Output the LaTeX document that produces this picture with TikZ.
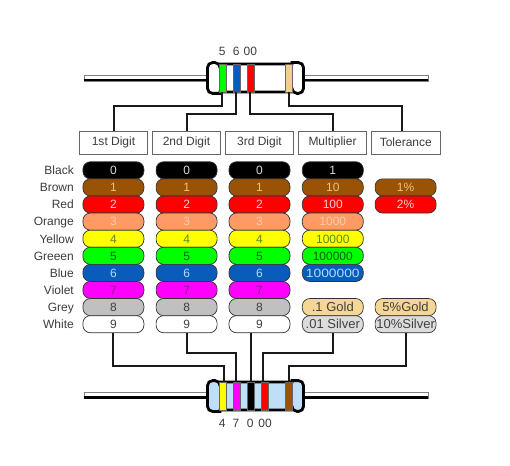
\documentclass[tikz,border=0pt]{standalone}
\usepackage{fontspec}
\usepackage{xcolor}
\usepackage{tikz}
\setmainfont{Liberation Sans}
\definecolor{ringbrown}{HTML}{9A5205}
\definecolor{ringred}{HTML}{FF0000}
\definecolor{ringorange}{HTML}{FF9966}
\definecolor{ringyellow}{HTML}{FFFF00}
\definecolor{ringgreen}{HTML}{00FF00}
\definecolor{ringblue}{HTML}{0A5CBB}
\definecolor{ringviolet}{HTML}{FF00FF}
\definecolor{ringgrey}{HTML}{C0C0C0}
\definecolor{ringgold}{HTML}{F5D795}
\definecolor{ringsilver}{HTML}{DCDCDC}
\definecolor{ringtan}{HTML}{F2CF8C}
\definecolor{bodyblue}{HTML}{BFDFF8}
\definecolor{labelgray}{HTML}{3C3C3C}

\begin{document}
\begin{tikzpicture}[
  x=1pt, y=-1pt,
  every node/.style={font=\fontsize{12}{14}\selectfont, text=labelgray},
  pill/.style={draw=black!80, line width=0.7pt, rounded corners=7.5pt, minimum width=61pt, minimum height=17.1pt, inner sep=0pt, text height=8.6pt, text depth=0pt, align=center},
  pblack/.style={pill, fill=black, text=black!15},
  pbrown/.style={pill, fill=ringbrown, text={rgb,255:red,240;green,195;blue,120}},
  pred/.style={pill, fill=ringred, text={rgb,255:red,255;green,205;blue,205}},
  porange/.style={pill, fill=ringorange, text={rgb,255:red,255;green,205;blue,170}},
  pyellow/.style={pill, fill=ringyellow, text={rgb,255:red,90;green,140;blue,30}},
  pgreen/.style={pill, fill=ringgreen, text={rgb,255:red,0;green,95;blue,0}},
  pblue/.style={pill, fill=ringblue, text={rgb,255:red,175;green,220;blue,255}},
  pviolet/.style={pill, fill=ringviolet, text={rgb,255:red,135;green,30;blue,135}},
  pgrey/.style={pill, fill=ringgrey, text=black!75},
  pwhite/.style={pill, fill=white, text=black!75},
  pgold/.style={pill, fill=ringgold, text=black!75, font=\fontsize{13}{14}\selectfont},
  psilver/.style={pill, fill=ringsilver, text=black!75, font=\fontsize{13}{14}\selectfont},
  colour/.style={anchor=east, inner sep=0pt, text height=8.6pt, text depth=0pt},
  digitbox/.style={draw=black!60, line width=0.7pt, fill=white, minimum width=68.4pt, minimum height=23.3pt, inner sep=0pt},
  band/.style={draw=black!60, line width=0.5pt, minimum width=7.4pt, minimum height=28pt, inner sep=0pt},
  casing/.style={draw=black, line width=2.8pt},
  lead/.style={draw=black!50, line width=0.7pt, fill=white, minimum width=344pt, minimum height=6pt, inner sep=0pt},
  wire/.style={draw=black!90, line width=2pt},
  value/.style={inner sep=0pt, text height=8.6pt, text depth=0pt}
]
\useasboundingbox (0,0) rectangle (510,465);

% upper resistor
\node[lead] (leadtop) at (256,78) {};
\draw[line width=2.6pt] ([yshift=1.4pt]leadtop.south west) -- ([yshift=1.4pt]leadtop.south east);
\draw[casing, fill=white] (207.5,78) [rounded corners=5pt] |- (220,62.6) [sharp corners] -- (220,64) -- (292,64) -- (292,62.6) [rounded corners=5pt] -| (303.5,78) |- (292,93.4) [sharp corners] -- (292,92) -- (220,92) -- (220,93.4) [rounded corners=5pt] -| (207.5,78) -- cycle;
\node[band, fill=ringgreen] (greentop) at (223,78) {};
\node[band, fill=ringblue] (bluetop) at (237,78) {};
\node[band, fill=ringred] (redtop) at (251,78) {};
\node[band, fill=ringtan] (tantop) at (289,78) {};
\node[value] (val5) at (222.3,51.7) {5};
\node[value] (val6) at (236.3,51.7) {6};
\node[value] (val00) at (250.3,51.7) {00};

% header boxes
\node[digitbox] (first) at (113.5,142.7) {1st Digit};
\node[digitbox] (second) at (186.5,142.7) {2nd Digit};
\node[digitbox] (third) at (259.5,142.7) {3rd Digit};
\node[digitbox] (multiplier) at (332.5,142.7) {Multiplier};
\node[digitbox] (tolerance) at (405.8,142.7) {Tolerance};

% colour names
\node[colour] (lblack) at (74,170.3) {Black};
\node[colour] (lbrown) at (74,187.4) {Brown};
\node[colour] (lred) at (74,204.5) {Red};
\node[colour] (lorange) at (74,221.6) {Orange};
\node[colour] (lyellow) at (74,238.7) {Yellow};
\node[colour] (lgreen) at (74,255.8) {Greeen};
\node[colour] (lblue) at (74,272.9) {Blue};
\node[colour] (lviolet) at (74,290) {Violet};
\node[colour] (lgrey) at (74,307.1) {Grey};
\node[colour] (lwhite) at (74,324.2) {White};

% first digit
\node[pblack] (a0) at (113.4,170.3) {0};
\node[pbrown] (a1) at (113.4,187.4) {1};
\node[pred] (a2) at (113.4,204.5) {2};
\node[porange] (a3) at (113.4,221.6) {3};
\node[pyellow] (a4) at (113.4,238.7) {4};
\node[pgreen] (a5) at (113.4,255.8) {5};
\node[pblue] (a6) at (113.4,272.9) {6};
\node[pviolet] (a7) at (113.4,290) {7};
\node[pgrey] (a8) at (113.4,307.1) {8};
\node[pwhite] (a9) at (113.4,324.2) {9};

% second digit
\node[pblack] (b0) at (186.6,170.3) {0};
\node[pbrown] (b1) at (186.6,187.4) {1};
\node[pred] (b2) at (186.6,204.5) {2};
\node[porange] (b3) at (186.6,221.6) {3};
\node[pyellow] (b4) at (186.6,238.7) {4};
\node[pgreen] (b5) at (186.6,255.8) {5};
\node[pblue] (b6) at (186.6,272.9) {6};
\node[pviolet] (b7) at (186.6,290) {7};
\node[pgrey] (b8) at (186.6,307.1) {8};
\node[pwhite] (b9) at (186.6,324.2) {9};

% third digit
\node[pblack] (c0) at (259.5,170.3) {0};
\node[pbrown] (c1) at (259.5,187.4) {1};
\node[pred] (c2) at (259.5,204.5) {2};
\node[porange] (c3) at (259.5,221.6) {3};
\node[pyellow] (c4) at (259.5,238.7) {4};
\node[pgreen] (c5) at (259.5,255.8) {5};
\node[pblue] (c6) at (259.5,272.9) {6};
\node[pviolet] (c7) at (259.5,290) {7};
\node[pgrey] (c8) at (259.5,307.1) {8};
\node[pwhite] (c9) at (259.5,324.2) {9};

% multiplier
\node[pblack] (m1) at (332.8,170.3) {1};
\node[pbrown] (m10) at (332.8,187.4) {10};
\node[pred] (m100) at (332.8,204.5) {100};
\node[porange] (m1k) at (332.8,221.6) {1000};
\node[pyellow] (m10k) at (332.8,238.7) {10000};
\node[pgreen] (m100k) at (332.8,255.8) {100000};
\node[pblue] (m1m) at (332.8,272.9) {\scalebox{1.15}[1]{1000000}};
\node[pgold] (mgold) at (332.8,307.1) {.1 Gold};
\node[psilver] (msilver) at (332.8,324.2) {.01 Silver};

% tolerance
\node[pbrown] (t1) at (405.6,187.4) {1\%};
\node[pred] (t2) at (405.6,204.5) {2\%};
\node[pgold] (tgold) at (405.6,307.1) {5\%Gold};
\node[psilver] (tsilver) at (405.6,324.2) {10\%Silver};

% lower resistor
\node[lead] (leadbot) at (256,395.3) {};
\draw[line width=2.6pt] ([yshift=1.4pt]leadbot.south west) -- ([yshift=1.4pt]leadbot.south east);
\draw[casing, fill=bodyblue] (207.5,396) [rounded corners=5pt] |- (220,380.6) [sharp corners] -- (220,382) -- (292,382) -- (292,380.6) [rounded corners=5pt] -| (303.5,396) |- (292,411.4) [sharp corners] -- (292,410) -- (220,410) -- (220,411.4) [rounded corners=5pt] -| (207.5,396) -- cycle;
\node[band, fill=ringyellow] (yellowbot) at (223,396) {};
\node[band, fill=ringviolet] (violetbot) at (237,396) {};
\node[band, fill=black] (blackbot) at (251,396) {};
\node[band, fill=ringred] (redbot) at (265,396) {};
\node[band, fill=ringbrown] (brownbot) at (289,396) {};
\node[value] (val4) at (222.3,422.7) {4};
\node[value] (val7) at (236,422.7) {7};
\node[value] (val0) at (250.3,422.7) {0};
\node[value] (val00b) at (265,422.7) {00};

% connectors
\draw[wire] ([xshift=-0.7pt]greentop.south) -- ([xshift=-0.7pt]greentop.south |- 0,106) -| (first.north);
\draw[wire] ([xshift=-1pt]bluetop.south) -- ([xshift=-1pt]bluetop.south |- 0,113.7) -| (second.north);
\draw[wire] ([xshift=-1pt]redtop.south) -- ([xshift=-1pt]redtop.south |- 0,113.7) -| (multiplier.north);
\draw[wire] (tantop.south) -- (tantop.south |- 0,106) -| ([xshift=-3.5pt]tolerance.north);
\draw[wire] (a9.south) -- (a9.south |- 0,366) -| ([xshift=0.7pt]yellowbot.north);
\draw[wire] (b9.south) -- (b9.south |- 0,352.7) -| ([xshift=-1pt]violetbot.north);
\draw[wire] (blackbot.north |- c9.south) -- (blackbot.north);
\draw[wire] (msilver.south) -- (msilver.south |- 0,352.7) -| ([xshift=-1.7pt]redbot.north);
\draw[wire] (tsilver.south) -- (tsilver.south |- 0,366) -| (brownbot.north);
\end{tikzpicture}
\end{document}
